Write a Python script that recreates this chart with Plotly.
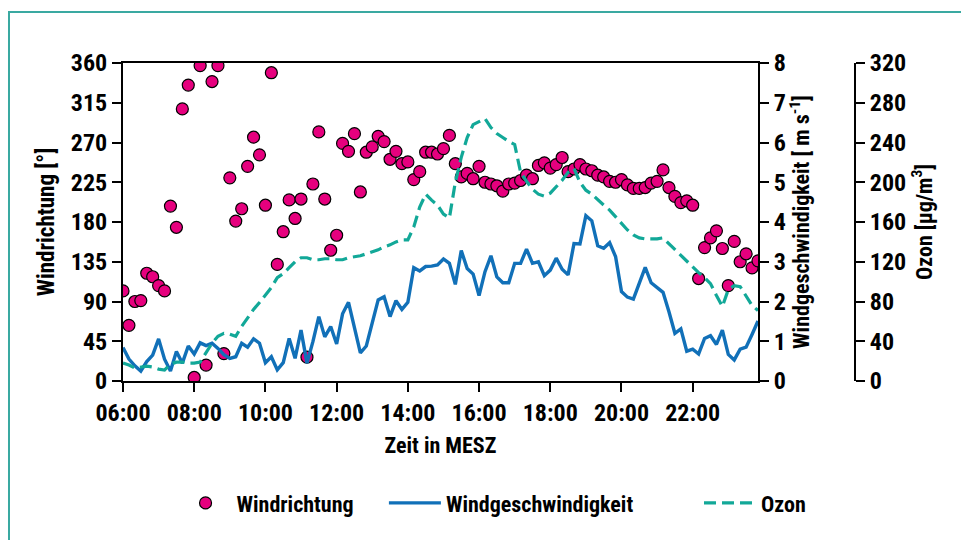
import pandas as pd
import plotly.graph_objects as go

# 10-minute readings, 06:00 to 23:50
times = pd.date_range("2000-01-01 06:00", periods=108, freq="10min")

wind_direction = [
    102, 63, 90, 91, 122, 118, 108, 102, 198, 174, 308, 335,
    4, 357, 18, 339, 357, 31, 230, 181, 195, 243, 276, 256,
    199, 349, 132, 169, 205, 184, 206, 27, 223, 282, 206, 148,
    165, 269, 260, 280, 214, 259, 265, 277, 271, 251, 260, 246,
    248, 228, 237, 259, 259, 257, 263, 278, 246, 231, 235, 229,
    243, 225, 223, 221, 215, 223, 224, 227, 233, 229, 244, 247,
    241, 245, 253, 237, 240, 245, 240, 238, 233, 231, 226, 225,
    228, 222, 218, 218, 219, 224, 226, 239, 219, 209, 202, 204,
    199, 116, 151, 162, 170, 150, 108, 158, 135, 144, 128, 136,
]

wind_speed = [
    0.84, 0.55, 0.38, 0.25, 0.49, 0.65, 1.06, 0.55, 0.25, 0.74, 0.45, 0.88,
    0.68, 0.96, 0.89, 0.95, 0.82, 0.66, 0.57, 0.61, 0.95, 0.85, 1.06, 0.95,
    0.46, 0.61, 0.28, 0.46, 1.07, 0.57, 1.28, 0.45, 0.99, 1.62, 1.11, 1.37,
    0.93, 1.69, 1.98, 1.33, 0.71, 0.88, 1.47, 2.04, 2.12, 1.62, 2.02, 1.80,
    1.98, 2.85, 2.77, 2.88, 2.89, 2.92, 3.07, 2.96, 2.43, 3.28, 2.83, 2.69,
    2.15, 2.75, 3.15, 2.62, 2.47, 2.47, 2.96, 2.96, 3.32, 2.96, 3.00, 2.65,
    2.79, 3.09, 2.81, 2.67, 3.46, 3.45, 4.16, 4.03, 3.40, 3.34, 3.48, 3.13,
    2.25, 2.11, 2.06, 2.46, 2.86, 2.47, 2.36, 2.23, 1.74, 1.20, 1.31, 0.75,
    0.80, 0.68, 1.07, 1.14, 0.92, 1.28, 0.67, 0.53, 0.80, 0.85, 1.17, 1.51,
]

ozone = [
    18, 16, 13, 14, 15, 14, 12, 11, 17, 19, 19, 18,
    18, 19, 28, 38, 45, 48, 47, 45, 55, 64, 72, 79,
    86, 94, 104, 108, 114, 120, 124, 124, 122, 122, 123, 123,
    122, 122, 124, 125, 126, 128, 130, 132, 135, 137, 140, 142,
    142, 155, 175, 188, 182, 177, 168, 164, 200, 225, 245, 258,
    261, 264, 255, 249, 245, 241, 238, 210, 201, 193, 188, 186,
    189, 195, 202, 210, 214, 200, 192, 188, 182, 177, 172, 165,
    158, 152, 147, 144, 143, 143, 143, 144, 138, 133, 127, 121,
    114, 109, 104, 98, 86, 75, 92, 96, 95, 85, 76, 71,
]

dir_ticks = [0, 45, 90, 135, 180, 225, 270, 315, 360]
speed_ticks = list(range(0, 9))
ozone_ticks = list(range(0, 321, 40))
hour_ticks = pd.date_range("2000-01-01 06:00", "2000-01-01 22:00", freq="2h")

FONT = "Roboto Condensed, Liberation Sans Narrow, Liberation Sans, sans-serif"
NBSP = "\u00a0"

fig = go.Figure()

fig.add_trace(go.Scatter(
    x=times, y=ozone, name="Ozon", yaxis="y3", mode="lines",
    line=dict(color="#12a898", width=3.2, dash="12px,6px"),
))
fig.add_trace(go.Scatter(
    x=times, y=wind_speed, name="Windgeschwindigkeit" + NBSP * 12, yaxis="y2",
    mode="lines", line=dict(color="#1170b8", width=3.4),
))
fig.add_trace(go.Scatter(
    x=times, y=wind_direction, name="Windrichtung" + NBSP * 5, yaxis="y",
    mode="markers",
    marker=dict(color="#e6007e", size=12, line=dict(color="black", width=1.2)),
))

axis_common = dict(
    showline=True, linecolor="black", linewidth=2,
    ticks="outside", ticklen=9, tickwidth=2, tickcolor="black",
    showgrid=False, zeroline=False,
    tickfont=dict(family=FONT, size=24, color="black", weight="bold"),
)

fig.update_layout(
    width=961, height=540,
    margin=dict(l=123, r=80, t=63, b=159),
    paper_bgcolor="white", plot_bgcolor="white",
    font=dict(family=FONT, size=22, color="black"),
    xaxis=dict(
        **axis_common,
        domain=[0, 0.8377],
        range=[times[0], times[-1]],
        tickvals=hour_ticks, tickformat="%H:%M",
        mirror=True,
        title=dict(text="<b>Zeit in MESZ</b>", font=dict(size=22), standoff=12),
    ),
    yaxis=dict(
        **axis_common,
        range=[0, 360], tickvals=dir_ticks,
        title=dict(text="<b>Windrichtung [°]</b>", font=dict(size=23), standoff=10),
    ),
    yaxis2=dict(
        **axis_common,
        overlaying="y", side="right", anchor="x",
        range=[0, 8], tickvals=speed_ticks,
        title=dict(text="<b>Windgeschwindigkeit [ m s<sup>-1</sup>]</b>",
                   font=dict(size=22), standoff=8),
    ),
    yaxis3=dict(
        **axis_common,
        overlaying="y", side="right", anchor="free", position=0.9657,
        range=[0, 320], tickvals=ozone_ticks,
        title=dict(text="<b>Ozon [µg/m<sup>3</sup>]</b>",
                   font=dict(size=22), standoff=10),
    ),
    legend=dict(
        orientation="h", x=0.068, xanchor="left", y=-0.384, yanchor="middle",
        font=dict(family=FONT, size=22, color="black", weight="bold"),
        itemwidth=52, traceorder="reversed", bgcolor="rgba(0,0,0,0)",
    ),
    showlegend=True,
)

# teal frame around the figure
fig.add_shape(
    type="rect", xref="paper", yref="paper",
    x0=-0.1504, x1=1.25, y0=-0.7, y1=1.160,
    line=dict(color="#3aa9a1", width=2), fillcolor="rgba(0,0,0,0)", layer="below",
)

fig.write_html("out.html")
